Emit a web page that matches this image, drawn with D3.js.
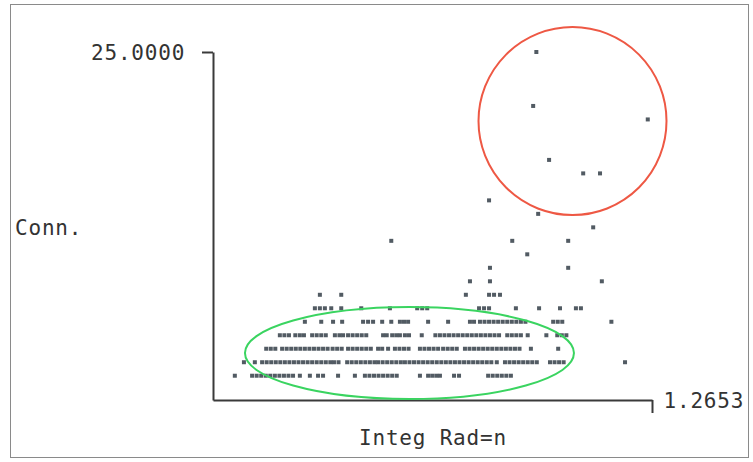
<!DOCTYPE html>
<html>
<head>
<meta charset="utf-8">
<script src="https://cdn.jsdelivr.net/npm/d3@7"></script>
<style>
    html, body { margin: 0; padding: 0; background: #fff; }
    #chart { width: 753px; height: 462px; }
    text { font-family: "DejaVu Sans Mono", "Liberation Mono", monospace; fill: #333; }
</style>
</head>
<body>
<div id="chart"></div>
<script>
/* ============================================= */
/* Data: Conn. levels and Integ Rad=n values     */
/* ============================================= */

const connLevels = [1, 2, 3, 4, 5, 6, 7, 8, 9, 10, 11, 12, 13, 14, 16, 17, 20, 21, 25];

const rad1 = [0.348, 0.386, 0.396, 0.406, 0.416, 0.426, 0.436, 0.446, 0.456, 0.466, 0.476, 0.491, 0.513,
    0.531, 0.542, 0.575, 0.612, 0.634, 0.644, 0.654, 0.664, 0.674, 0.684, 0.694, 0.704, 0.755, 0.773,
    0.782, 0.791, 0.799, 0.830, 0.841, 0.905, 0.915, 0.925, 0.935, 0.945, 0.955];
const rad2 = [0.368, 0.392, 0.408, 0.418, 0.428, 0.438, 0.448, 0.458, 0.468, 0.478, 0.488, 0.498, 0.508,
    0.518, 0.528, 0.538, 0.548, 0.558, 0.566, 0.576, 0.595, 0.605, 0.615, 0.625, 0.635, 0.645, 0.655,
    0.663, 0.673, 0.683, 0.693, 0.703, 0.713, 0.722, 0.732, 0.742, 0.752, 0.762, 0.772, 0.782, 0.792,
    0.802, 0.812, 0.822, 0.832, 0.842, 0.852, 0.862, 0.872, 0.882, 0.892, 0.902, 0.912, 0.924, 0.942,
    0.952, 0.962, 0.972, 0.982, 0.992, 1.002, 1.012, 1.041, 1.051, 1.061, 1.071, 1.206];
const rad3 = [0.417, 0.427, 0.437, 0.452, 0.462, 0.472, 0.482, 0.492, 0.502, 0.512, 0.522, 0.532, 0.542,
    0.552, 0.563, 0.573, 0.583, 0.597, 0.607, 0.617, 0.627, 0.637, 0.647, 0.663, 0.672, 0.685, 0.700,
    0.710, 0.720, 0.730, 0.755, 0.765, 0.775, 0.785, 0.795, 0.806, 0.816, 0.826, 0.836, 0.854, 0.864,
    0.874, 0.884, 0.894, 0.904, 0.914, 0.924, 0.934, 0.944, 0.954, 0.964, 0.974, 0.999, 1.059];
const rad4 = [0.447, 0.457, 0.467, 0.481, 0.491, 0.500, 0.518, 0.528, 0.538, 0.548, 0.568, 0.578, 0.586,
    0.597, 0.607, 0.617, 0.627, 0.637, 0.674, 0.682, 0.694, 0.703, 0.711, 0.722, 0.731, 0.759, 0.789,
    0.799, 0.809, 0.819, 0.829, 0.839, 0.849, 0.859, 0.869, 0.879, 0.889, 0.899, 0.909, 0.919, 0.929,
    0.947, 0.957, 0.967, 0.977, 0.992, 1.033, 1.057, 1.067, 1.077];
const rad5 = [0.502, 0.538, 0.564, 0.584, 0.630, 0.641, 0.652, 0.672, 0.692, 0.711, 0.720, 0.729, 0.773,
    0.817, 0.865, 0.874, 0.887, 0.897, 0.907, 0.917, 0.927, 0.937, 0.947, 0.957, 0.967, 0.977, 0.987,
    1.048, 1.058, 1.068, 1.176];
const rad6 = [0.524, 0.535, 0.546, 0.560, 0.582, 0.626, 0.689, 0.749, 0.760, 0.771, 0.885, 0.896, 0.907,
    0.966, 1.017, 1.063, 1.098, 1.109];
const rad7 = [0.535, 0.582, 0.856, 0.907, 0.918, 0.931];
const rad8 = [0.865, 0.909, 1.155];
const rad9 = [0.909, 1.081];
const rad10 = [0.991];
const rad11 = [0.692, 0.958, 1.081];
const rad12 = [1.136];
const rad13 = [1.015];
const rad14 = [0.907];
const rad16 = [1.114, 1.151];
const rad17 = [1.039];
const rad20 = [1.256];
const rad21 = [1.004];
const rad25 = [1.011];

const radByLevel = [rad1, rad2, rad3, rad4, rad5, rad6, rad7, rad8, rad9, rad10, rad11, rad12, rad13,
    rad14, rad16, rad17, rad20, rad21, rad25];

const yTickLabels = ['25.0000'];
const xTickLabels = ['1.2653'];
const yTickValues = [25];
const xTickValues = [1.2653];

/* ============================================= */
/* Scales and SVG                                */
/* ============================================= */

const W = 753, H = 462;

const svg = d3.select('#chart')
    .append('svg')
    .attr('width', W)
    .attr('height', H);

// frame round the picture
svg.append('rect')
    .attr('x', 10.5).attr('y', 4.5)
    .attr('width', 738).attr('height', 453)
    .attr('fill', '#fff')
    .attr('stroke', '#8a8a8a')
    .attr('stroke-width', 1);

const x = d3.scaleLinear().domain([0.3, 1.2653]).range([213, 652]);
const y = d3.scaleLinear().domain([-0.8, 25]).range([400, 52]);

const points = [];
connLevels.forEach((c, i) => {
    radByLevel[i].forEach(r => points.push({ x: r, y: c }));
});

/* ============================================= */
/* Axes                                          */
/* ============================================= */

const yAxis = svg.append('g')
    .attr('transform', `translate(${x.range()[0]},0)`)
    .call(d3.axisLeft(y)
        .tickValues(yTickValues)
        .tickFormat((d, i) => yTickLabels[i])
        .tickSize(11)
        .tickSizeOuter(0));

const xAxis = svg.append('g')
    .attr('transform', `translate(0,${y.range()[0]})`)
    .call(d3.axisBottom(x)
        .tickValues(xTickValues)
        .tickFormat((d, i) => xTickLabels[i])
        .tickSize(13)
        .tickSizeOuter(0));

[yAxis, xAxis].forEach(g => {
    g.select('.domain').attr('stroke', '#3a3a3a').attr('stroke-width', 2);
    g.selectAll('.tick line').attr('stroke', '#3a3a3a').attr('stroke-width', 2);
    g.selectAll('.tick text')
        .style('font-size', '21px')
        .style('letter-spacing', '0.8px')
        .attr('fill', '#333');
});

yAxis.selectAll('.tick text')
    .attr('text-anchor', 'start')
    .attr('x', -122)
    .attr('dy', '0.36em');

xAxis.selectAll('.tick text')
    .attr('text-anchor', 'start')
    .attr('x', 11)
    .attr('y', 0)
    .attr('dy', '0.38em');

svg.append('text')
    .attr('x', 15).attr('y', 235)
    .style('font-size', '21px')
    .style('letter-spacing', '0.8px')
    .text('Conn.');

svg.append('text')
    .attr('x', 359).attr('y', 445)
    .style('font-size', '21px')
    .style('letter-spacing', '0.8px')
    .text('Integ Rad=n');

/* ============================================= */
/* Points                                        */
/* ============================================= */

svg.selectAll('.dot')
    .data(points)
    .enter().append('rect')
    .attr('class', 'dot')
    .attr('x', d => x(d.x) - 2)
    .attr('y', d => y(d.y) - 2)
    .attr('width', 4)
    .attr('height', 4)
    .attr('fill', '#525b63');

/* ============================================= */
/* Highlight rings                               */
/* ============================================= */

const rings = [
    { cx: 1.0905, cy: 19.88, rx: 0.2067, ry: 6.97, color: '#ee5844' },
    { cx: 0.732, cy: 2.68, rx: 0.3617, ry: 3.41, color: '#3ad460' }
];

svg.selectAll('.ring')
    .data(rings)
    .enter().append('ellipse')
    .attr('class', 'ring')
    .attr('cx', d => x(d.cx))
    .attr('cy', d => y(d.cy))
    .attr('rx', d => x(d.cx + d.rx) - x(d.cx))
    .attr('ry', d => y(d.cy - d.ry) - y(d.cy))
    .attr('fill', 'none')
    .attr('stroke', d => d.color)
    .attr('stroke-width', 2);
</script>
</body>
</html>
